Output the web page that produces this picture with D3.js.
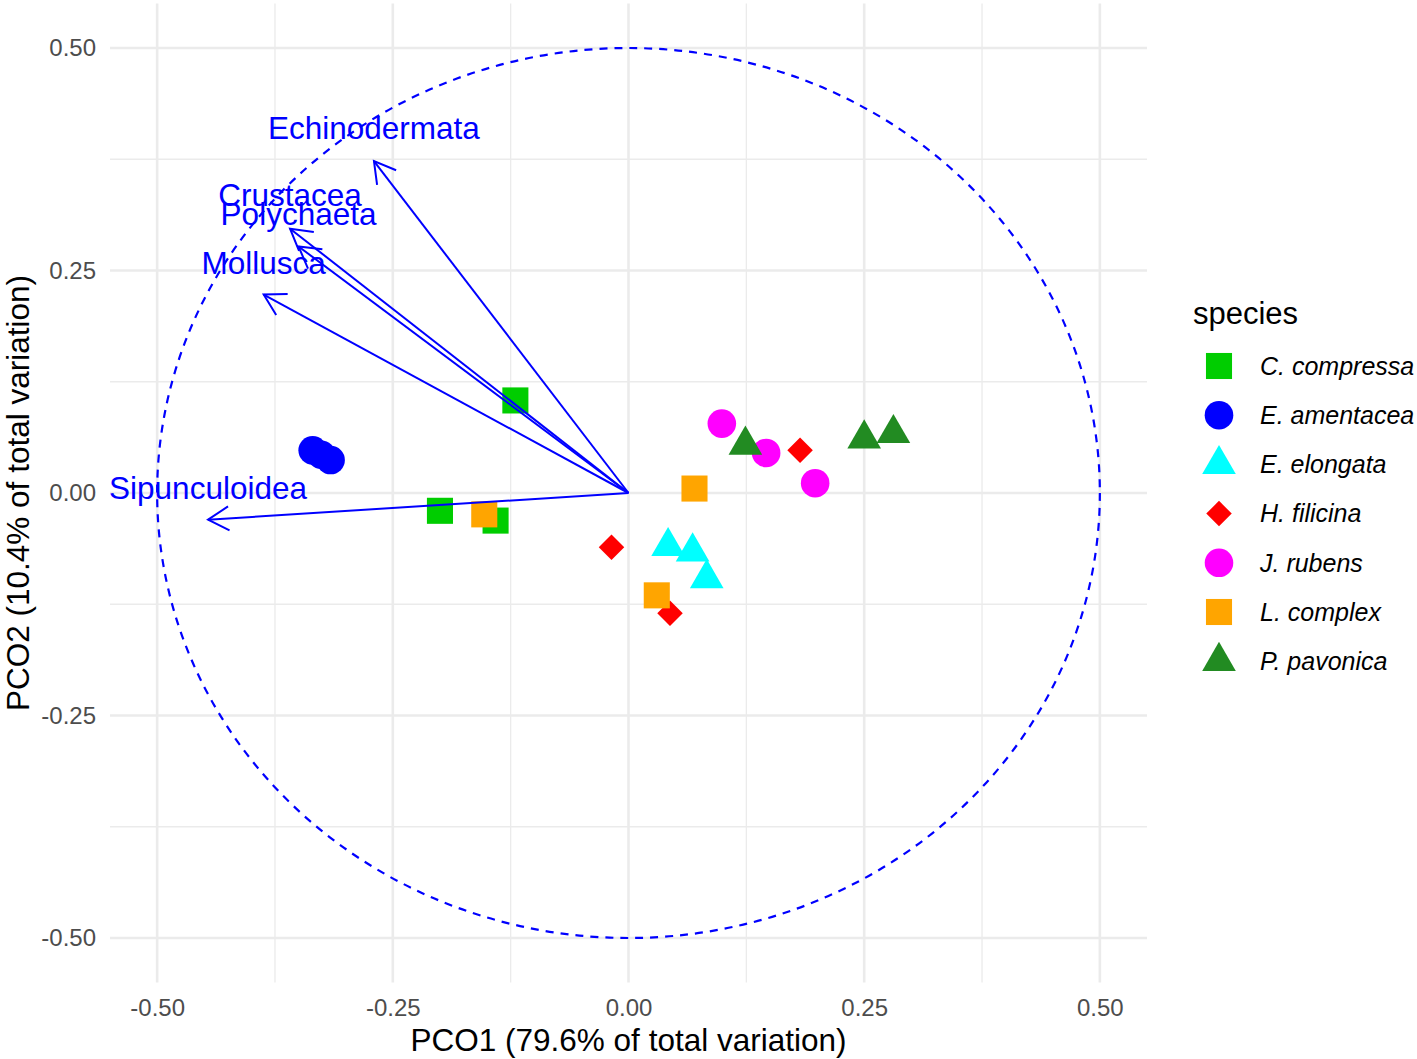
<!DOCTYPE html>
<html>
<head>
<meta charset="utf-8">
<script src="https://cdn.jsdelivr.net/npm/d3@7"></script>
<style>
  body { margin: 0; background: #fff; }
  text { font-family: "Liberation Sans", Arial, sans-serif; }
</style>
</head>
<body>
<div class="canvas"></div>
<script>
// species / groups
const species = ['C. compressa', 'E. amentacea', 'E. elongata', 'H. filicina', 'J. rubens', 'L. complex', 'P. pavonica'];
const speciesColors = ['#00CD00', '#0000FF', '#00FFFF', '#FF0000', '#FF00FF', '#FFA500', '#228B22'];
const speciesShapes = ['square', 'circle', 'triangle', 'diamond', 'circle', 'square', 'triangle'];

// sample scores (PCO1, PCO2)
const pointSpecies = [
  'C. compressa', 'C. compressa', 'C. compressa',
  'E. amentacea', 'E. amentacea', 'E. amentacea',
  'E. elongata', 'E. elongata', 'E. elongata',
  'H. filicina', 'H. filicina', 'H. filicina',
  'J. rubens', 'J. rubens', 'J. rubens',
  'L. complex', 'L. complex', 'L. complex',
  'P. pavonica', 'P. pavonica', 'P. pavonica'
];
const pco1 = [
  -0.120, -0.200, -0.141,
  -0.335, -0.326, -0.316,
  0.042, 0.068, 0.083,
  -0.018, 0.044, 0.182,
  0.099, 0.146, 0.198,
  -0.153, 0.030, 0.070,
  0.124, 0.250, 0.281
];
const pco2 = [
  0.104, -0.020, -0.031,
  0.048, 0.043, 0.037,
  -0.060, -0.066, -0.096,
  -0.061, -0.135, 0.048,
  0.078, 0.045, 0.011,
  -0.024, -0.115, 0.005,
  0.054, 0.061, 0.067
];

// taxa vectors
const taxa = ['Echinodermata', 'Crustacea', 'Polychaeta', 'Mollusca', 'Sipunculoidea'];
const vecX = [-0.270, -0.359, -0.350, -0.387, -0.446];
const vecY = [0.373, 0.297, 0.277, 0.223, -0.030];
const labelX = [-0.270, -0.359, -0.350, -0.387, -0.446];
const labelY = [0.410, 0.335, 0.313, 0.259, 0.006];

// ticks
const majorTicks = [-0.50, -0.25, 0, 0.25, 0.50];
const minorTicks = [-0.375, -0.125, 0.125, 0.375];

const width = 1417, height = 1059;

const svg = d3.select('.canvas')
  .append('svg')
    .attr('width', width)
    .attr('height', height);

const panel = {left: 110, right: 1147, top: 3.5, bottom: 982.5};

const x = d3.scaleLinear().domain([-0.55, 0.55]).range([panel.left, panel.right]);
const y = d3.scaleLinear().domain([-0.55, 0.55]).range([panel.bottom, panel.top]);

const color = d3.scaleOrdinal().domain(species).range(speciesColors);
const shape = d3.scaleOrdinal().domain(species).range(speciesShapes);

// grid
const gridGroup = svg.append('g');
gridGroup.selectAll('.vminor').data(minorTicks).enter().append('line')
  .attr('x1', d => x(d)).attr('x2', d => x(d))
  .attr('y1', panel.top).attr('y2', panel.bottom)
  .attr('stroke', '#EBEBEB').attr('stroke-width', 1.3);
gridGroup.selectAll('.hminor').data(minorTicks).enter().append('line')
  .attr('y1', d => y(d)).attr('y2', d => y(d))
  .attr('x1', panel.left).attr('x2', panel.right)
  .attr('stroke', '#EBEBEB').attr('stroke-width', 1.3);
gridGroup.selectAll('.vmajor').data(majorTicks).enter().append('line')
  .attr('x1', d => x(d)).attr('x2', d => x(d))
  .attr('y1', panel.top).attr('y2', panel.bottom)
  .attr('stroke', '#EBEBEB').attr('stroke-width', 2.6);
gridGroup.selectAll('.hmajor').data(majorTicks).enter().append('line')
  .attr('y1', d => y(d)).attr('y2', d => y(d))
  .attr('x1', panel.left).attr('x2', panel.right)
  .attr('stroke', '#EBEBEB').attr('stroke-width', 2.6);

// axes (labels only)
const fmt = d => d3.format('.2f')(d).replace('\u2212', '-');
const xAxisGroup = svg.append('g')
  .attr('transform', `translate(0, ${panel.bottom})`)
  .call(d3.axisBottom(x).tickValues(majorTicks).tickSize(0).tickPadding(16).tickFormat(fmt));
const yAxisGroup = svg.append('g')
  .attr('transform', `translate(${panel.left}, 0)`)
  .call(d3.axisLeft(y).tickValues(majorTicks).tickSize(0).tickPadding(14).tickFormat(fmt));
[xAxisGroup, yAxisGroup].forEach(g => {
  g.select('.domain').remove();
  g.selectAll('text')
    .attr('font-size', 24)
    .attr('fill', '#4D4D4D')
    .attr('font-family', '"Liberation Sans", Arial, sans-serif');
});

// axis titles
svg.append('text')
  .attr('x', x(0)).attr('y', 1051)
  .attr('text-anchor', 'middle')
  .attr('font-size', 31.5)
  .attr('fill', '#000')
  .text('PCO1 (79.6% of total variation)');
svg.append('text')
  .attr('transform', `translate(29, ${y(0)}) rotate(-90)`)
  .attr('text-anchor', 'middle')
  .attr('font-size', 31.5)
  .attr('fill', '#000')
  .text('PCO2 (10.4% of total variation)');

// dashed circle of radius 0.5
svg.append('ellipse')
  .attr('cx', x(0)).attr('cy', y(0))
  .attr('rx', x(0.5) - x(0)).attr('ry', y(0) - y(0.5))
  .attr('fill', 'none')
  .attr('stroke', '#0000FF')
  .attr('stroke-width', 2.2)
  .attr('stroke-dasharray', '8,7');

// symbols
function symbolPath(s) {
  if (s === 'square') return d3.symbol().type(d3.symbolSquare).size(680)();
  if (s === 'circle') return d3.symbol().type(d3.symbolCircle).size(Math.PI * 14.3 * 14.3)();
  if (s === 'triangle') return d3.symbol().type(d3.symbolTriangle).size(490)();
  return d3.symbol().type(d3.symbolSquare).size(325)();
}
function symbolRotate(s) { return s === 'diamond' ? ' rotate(45)' : ''; }

const points = pointSpecies.map((sp, i) => ({sp, px: pco1[i], py: pco2[i]}));

svg.append('g').selectAll('path')
  .data(points)
  .enter()
  .append('path')
    .attr('d', d => symbolPath(shape(d.sp)))
    .attr('transform', d => `translate(${x(d.px)}, ${y(d.py)})${symbolRotate(shape(d.sp))}`)
    .attr('fill', d => color(d.sp));

// vectors
const vectors = taxa.map((t, i) => ({t, vx: vecX[i], vy: vecY[i], lx: labelX[i], ly: labelY[i]}));
const vecGroup = svg.append('g');
vecGroup.selectAll('line')
  .data(vectors)
  .enter()
  .append('line')
    .attr('x1', x(0)).attr('y1', y(0))
    .attr('x2', d => x(d.vx)).attr('y2', d => y(d.vy))
    .attr('stroke', '#0000FF')
    .attr('stroke-width', 2);
vecGroup.selectAll('path.head')
  .data(vectors)
  .enter()
  .append('path')
    .attr('class', 'head')
    .attr('d', d => {
      const tx = x(d.vx), ty = y(d.vy);
      const a = Math.atan2(ty - y(0), tx - x(0));
      const L = 24, w = Math.PI / 6;
      const p1 = [tx - L * Math.cos(a - w), ty - L * Math.sin(a - w)];
      const p2 = [tx - L * Math.cos(a + w), ty - L * Math.sin(a + w)];
      return `M${p1[0]},${p1[1]}L${tx},${ty}L${p2[0]},${p2[1]}`;
    })
    .attr('fill', 'none')
    .attr('stroke', '#0000FF')
    .attr('stroke-width', 2);
vecGroup.selectAll('text')
  .data(vectors)
  .enter()
  .append('text')
    .attr('x', d => x(d.lx))
    .attr('y', d => y(d.ly))
    .attr('dy', '0.35em')
    .attr('text-anchor', 'middle')
    .attr('font-size', 31.5)
    .attr('fill', '#0000FF')
    .text(d => d.t);

// legend
const legend = svg.append('g').attr('transform', 'translate(1193, 0)');
legend.append('text')
  .attr('x', 0).attr('y', 324)
  .attr('font-size', 31)
  .attr('fill', '#000')
  .text('species');
const rows = legend.selectAll('g.row')
  .data(species)
  .enter()
  .append('g')
    .attr('class', 'row')
    .attr('transform', (d, i) => `translate(0, ${366 + i * 49.2})`);
rows.append('path')
  .attr('d', d => symbolPath(shape(d)))
  .attr('transform', d => `translate(26, 0)${symbolRotate(shape(d))}`)
  .attr('fill', d => color(d));
rows.append('text')
  .attr('x', 67).attr('dy', '0.35em')
  .attr('font-size', 25)
  .attr('font-style', 'italic')
  .attr('fill', '#000')
  .text(d => d);
</script>
</body>
</html>
